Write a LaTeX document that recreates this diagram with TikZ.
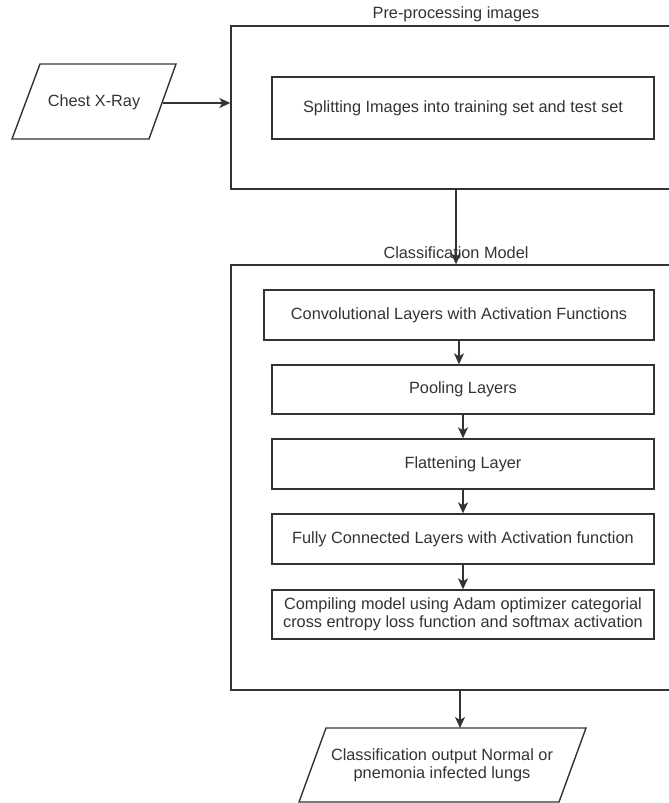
\documentclass[tikz,border=0pt]{standalone}
\usepackage{fontspec}
\setmainfont{Liberation Sans}
\usetikzlibrary{arrows.meta,calc}
\begin{document}
\begin{tikzpicture}[x=1pt,y=-1pt,
  ink/.style={draw=black!80, line width=1.4pt},
  txt/.style={text=black!80, font=\fontsize{16.3}{18.5}\selectfont, align=center, inner sep=0pt},
  box/.style={ink, txt, rectangle},
  flow/.style={ink, -{Stealth[length=11pt,width=10pt,inset=3pt]}}]
\clip (0,0) rectangle (669,803);

% input parallelogram
\draw[ink] (12,139) -- (40,64) -- (176,64) -- (149,139) -- cycle;
\node[txt] (xray) at (94,102) {Chest X-Ray};
\coordinate (xrayout) at (162.5,103);

% pre-processing group
\node[box, minimum width=464, minimum height=163] (pre) at (463,107.5) {};
\node[txt] (prelabel) at (456,14) {Pre-processing images};
\node[box, minimum width=382, minimum height=62] (split) at (463,108)
  {Splitting Images into training set and test set};

% classification group
\node[box, minimum width=464, minimum height=425] (cls) at (463,477.5) {};
\node[txt] (clslabel) at (456,253) {Classification Model};
\node[box, minimum width=390, minimum height=50] (conv) at (459,315)
  {Convolutional Layers with Activation Functions};
\node[box, minimum width=382, minimum height=49] (pool) at (463,389.5)
  {Pooling Layers};
\node[box, minimum width=382, minimum height=50] (flat) at (463,464)
  {Flattening Layer};
\node[box, minimum width=382, minimum height=50] (fc) at (463,539)
  {Fully Connected Layers with Activation function};
\node[box, minimum width=382, minimum height=49] (comp) at (463,614.5)
  {Compiling model using Adam optimizer categorial\\cross entropy loss function and softmax activation};

% output parallelogram
\draw[ink] (299,802) -- (326,728) -- (586,728) -- (559,802) -- cycle;
\node[txt] (out) at (442,765.5) {Classification output Normal or\\pnemonia infected lungs};
\coordinate (outin) at (460,728);

% connectors
\draw[flow] (xrayout) -- (xrayout -| pre.west);
\draw[flow] ([xshift=-7pt]pre.south) -- ([xshift=-7pt]cls.north);
\draw[flow] (conv.south) -- (conv.south |- pool.north);
\draw[flow] (pool.south) -- (flat.north);
\draw[flow] (flat.south) -- (fc.north);
\draw[flow] (fc.south) -- (comp.north);
\draw[flow] (outin |- cls.south) -- (outin);
\end{tikzpicture}
\end{document}
